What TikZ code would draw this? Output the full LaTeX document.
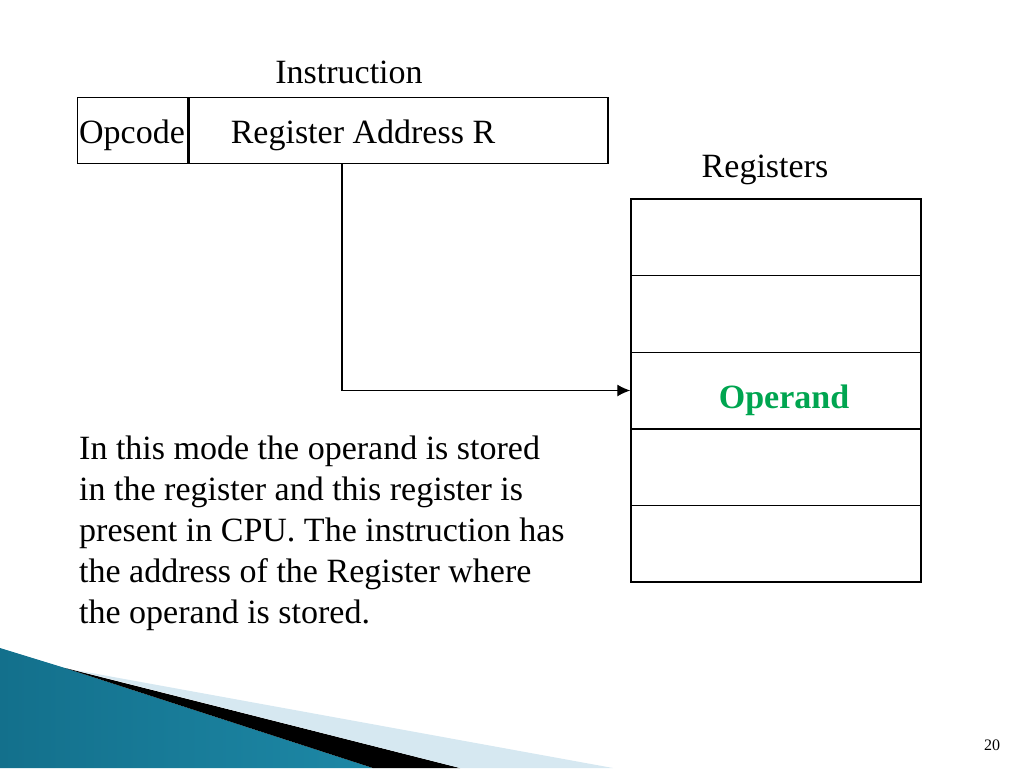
\documentclass[tikz,border=0pt]{standalone}
\usepackage{fontspec}
\setmainfont{Liberation Serif}
\usetikzlibrary{arrows.meta}
\definecolor{leaf}{HTML}{00A550}
\definecolor{tealdark}{HTML}{13708C}
\definecolor{teallight}{HTML}{52B7D2}
\definecolor{tealmid}{HTML}{1D88A6}
\definecolor{mist}{HTML}{D6E8F1}

\begin{document}
\begin{tikzpicture}[x=1pt,y=-1pt,font=\fontsize{34}{41}\selectfont,
  >={Latex[length=13pt,width=12pt]},
  field/.style={draw,line width=1.3pt,minimum height=66pt,inner sep=0pt,
    anchor=north west},
  reg/.style={draw,line width=1.4pt,minimum width=290pt,
    minimum height=76.6pt,inner sep=0pt}]
  \useasboundingbox (0,0) rectangle (1024,768);

  % instruction word
  \node[anchor=base] (title) at (349,83) {Instruction};
  \node[field,minimum width=110pt] (opcode) at (77,97) {};
  \node[field,minimum width=419pt] (addr) at (opcode.north east) {};
  \node[anchor=base] (optxt) at (132,143) {Opcode};
  \node[anchor=base] (addrtxt) at (363,143) {Register Address R};

  % register file
  \node[anchor=base] (regtitle) at (765,177) {Registers};
  \foreach \i in {1,...,5}
    \node[reg] (reg\i) at (776,{199+76.6*(\i-0.5)}) {};
  \node[anchor=base,text=leaf,font=\fontsize{34}{41}\selectfont\bfseries]
    (operand) at (784,408) {Operand};

  % R points at the register
  \coordinate (tap) at (342,163);
  \draw[->,line width=1.3pt] (tap) |- (reg3.west);

  \node[anchor=north west,align=left,inner sep=0pt] (note) at (79,436)
    {In this mode the operand is stored\\
     in the register and this register is\\
     present in CPU. The instruction has\\
     the address of the Register where\\
     the operand is stored.};

  % footer swoosh
  \shade[left color=tealdark,middle color=teallight,right color=tealmid]
    (0,648) -- (65,668) -- (373,768) -- (0,768) -- cycle;
  \fill[black] (65,668) -- (460,768) -- (373,768) -- cycle;
  \fill[mist] (75,670) -- (613,768) -- (460,768) -- cycle;
  \node[font=\fontsize{16}{19}\selectfont] (page) at (992,745) {20};
\end{tikzpicture}
\end{document}
